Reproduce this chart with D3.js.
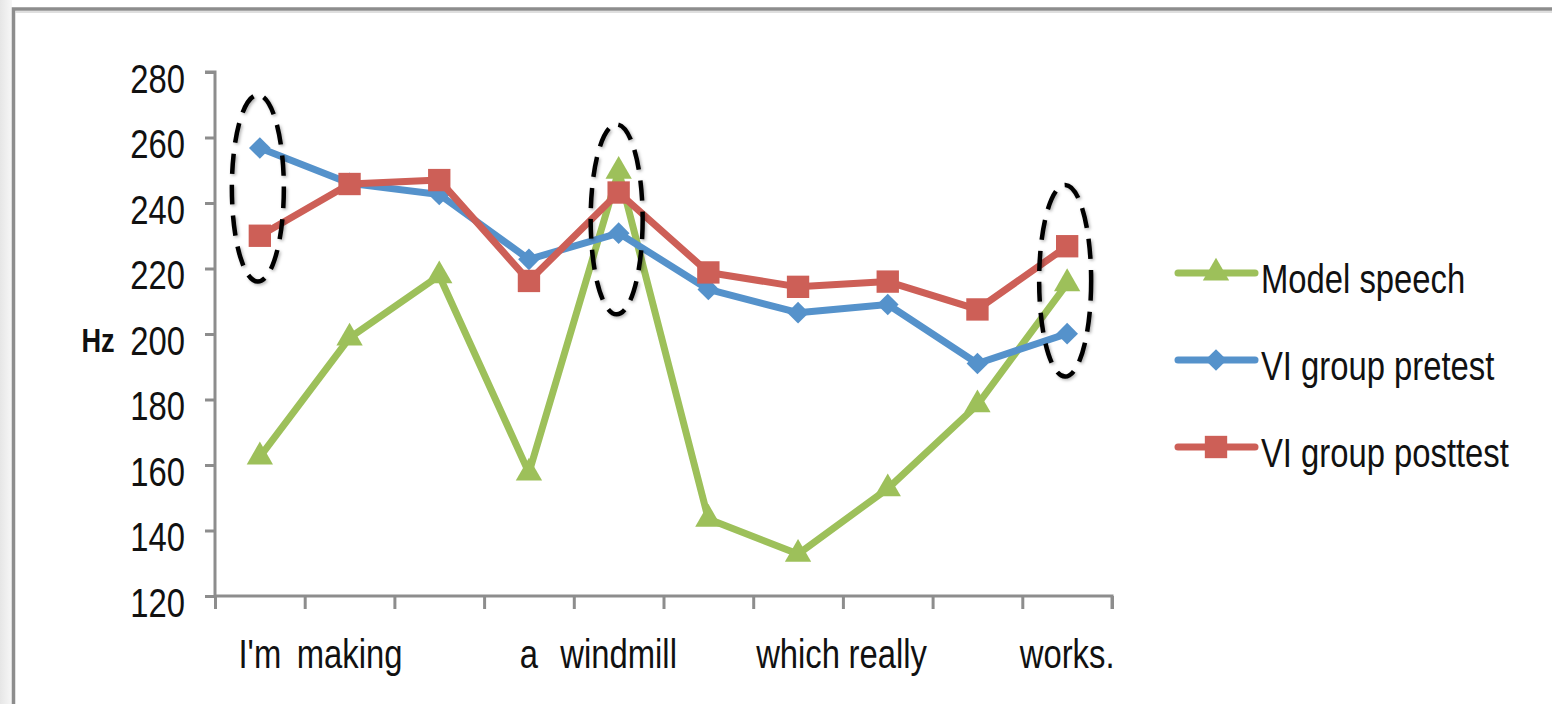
<!DOCTYPE html>
<html>
<head>
<meta charset="utf-8">
<script src="https://cdn.jsdelivr.net/npm/d3@7"></script>
<style>
  html, body { margin: 0; padding: 0; background: #fff; }
  svg { display: block; }
  text { font-family: "Liberation Sans", Arial, sans-serif; fill: #111; }
</style>
</head>
<body>
<svg id="chart"></svg>
<script>
// syllable labels (blank = second syllable)
const categories = ["I'm", "making", "", "a", "windmill", "", "which", "really", "", "works."];
const modelSpeech = [162.5, 198.8, 217.8, 157.6, 249.7, 143.5, 132.8, 152.8, 178.4, 215.4];
const preTest     = [256.8, 246.0, 242.6, 222.8, 230.8, 213.6, 206.5, 209.0, 191.0, 200.1];
const postTest    = [230.0, 245.8, 247.0, 216.2, 243.2, 218.8, 214.4, 216.0, 207.5, 226.8];
const seriesNames = ["Model speech", "VI group pretest", "VI group posttest"];
const yTicks = [120, 140, 160, 180, 200, 220, 240, 260, 280];
// dashed rings: category index, Hz range
const rings = [
  {i: 0, lo: 216, hi: 273},
  {i: 4, lo: 206, hi: 264},
  {i: 9, lo: 187, hi: 245.5}
];

const width = 1552, height = 704;
const squeeze = 0.8; // the source font is condensed
const svg = d3.select("#chart").attr("width", width).attr("height", height);

// place a text at x,y squeezed horizontally
function narrow(sel, x, y) {
  sel.attr("x", 0).attr("y", 0)
    .attr("transform", (d, i) => `translate(${typeof x === "function" ? x(d, i) : x},${typeof y === "function" ? y(d, i) : y}) scale(${squeeze},1)`);
}

// frame background
const defs = svg.append("defs");
const grad = defs.append("linearGradient").attr("id", "side")
  .attr("x1", 0).attr("x2", 1).attr("y1", 0).attr("y2", 0);
grad.append("stop").attr("offset", 0).attr("stop-color", "#e6e6e6");
grad.append("stop").attr("offset", 1).attr("stop-color", "#f7f7f7");
svg.append("rect").attr("x", 0).attr("y", 0).attr("width", 12).attr("height", height).attr("fill", "url(#side)");

const shadow = defs.append("filter").attr("id", "shadow")
  .attr("x", "-50%").attr("y", "-50%").attr("width", "200%").attr("height", "200%");
shadow.append("feDropShadow").attr("dx", 1.5).attr("dy", 1.5).attr("stdDeviation", 1.5)
  .attr("flood-color", "#000").attr("flood-opacity", 0.3);

svg.append("path")
  .attr("d", `M13.5,${height} V9 H${width}`)
  .attr("fill", "none").attr("stroke", "#8d8d8d").attr("stroke-width", 3.5);
svg.append("line").attr("x1", 15).attr("x2", width).attr("y1", 12).attr("y2", 12)
  .attr("stroke", "#d4d4d4").attr("stroke-width", 1.5);

const x0 = 215, x1 = 1112, yTop = 72, yBottom = 596;

const xEdge = d3.scaleLinear().domain([0, categories.length]).range([x0, x1]);
const xBand = d3.scaleBand().domain(d3.range(categories.length)).range([x0, x1]).padding(0);
const xc = i => xBand(i) + xBand.bandwidth() / 2;

const y = d3.scaleLinear().domain([120, 280]).range([yBottom, yTop]);

const axisColor = "#8d8d8d";

// y axis
const gy = svg.append("g").attr("transform", `translate(${x0},0)`)
  .call(d3.axisLeft(y).tickValues(yTicks).tickSize(10).tickFormat(d3.format("d")));
gy.select(".domain").attr("stroke", axisColor).attr("stroke-width", 3).attr("d", `M-10,${yTop}H0V${yBottom}`);
gy.selectAll(".tick line").attr("stroke", axisColor).attr("stroke-width", 3);
gy.selectAll(".tick text").attr("font-size", 41).attr("dy", null).attr("fill", "#111")
  .call(narrow, -30, 20);

// x axis (ticks on category edges)
const gx = svg.append("g").attr("transform", `translate(0,${yBottom})`)
  .call(d3.axisBottom(xEdge).ticks(categories.length).tickSize(13).tickFormat(""));
gx.select(".domain").attr("stroke", axisColor).attr("stroke-width", 3).attr("d", `M${x0},0H${x1}V13`);
gx.selectAll(".tick line").attr("stroke", axisColor).attr("stroke-width", 3);

svg.append("g").selectAll("text").data(categories).join("text")
  .attr("text-anchor", "middle").attr("font-size", 41)
  .call(narrow, (d, i) => xc(i), 668)
  .text(d => d);

// y title
svg.append("text").attr("text-anchor", "middle")
  .attr("font-size", 34).attr("font-weight", "bold")
  .call(narrow, 98, 352)
  .text("Hz");

const series = [
  {name: seriesNames[0], values: modelSpeech, color: "#9dc05a", symbol: d3.symbolTriangle, size: 300},
  {name: seriesNames[1], values: preTest, color: "#5592cb", symbol: d3.symbolDiamond2, size: 300},
  {name: seriesNames[2], values: postTest, color: "#cd5f57", symbol: d3.symbolSquare, size: 500}
];

const line = d3.line().x((d, i) => xc(i)).y(d => y(d));

series.forEach(s => {
  const g = svg.append("g");
  g.append("path").datum(s.values)
    .attr("fill", "none").attr("stroke", s.color).attr("stroke-width", 7)
    .attr("stroke-linejoin", "round").attr("d", line);
  g.selectAll("path.mark").data(s.values).join("path").attr("class", "mark")
    .attr("transform", (d, i) => `translate(${xc(i)},${y(d)})`)
    .attr("d", d3.symbol().type(s.symbol).size(s.size))
    .attr("fill", s.color);
});

// dashed rings
svg.append("g").selectAll("ellipse").data(rings).join("ellipse")
  .attr("cx", d => xc(d.i) - 2)
  .attr("cy", d => (y(d.lo) + y(d.hi)) / 2)
  .attr("rx", 26)
  .attr("ry", d => (y(d.lo) - y(d.hi)) / 2)
  .attr("fill", "none").attr("stroke", "#000").attr("stroke-width", 4.5)
  .attr("stroke-dasharray", "20 11")
  .attr("filter", "url(#shadow)");

// legend
const legend = svg.append("g").attr("transform", "translate(1178,273)");
const li = legend.selectAll("g").data(series).join("g")
  .attr("transform", (d, i) => `translate(0,${i * 87})`);
li.append("line").attr("x1", 0).attr("x2", 77).attr("y1", 0).attr("y2", 0)
  .attr("stroke", d => d.color).attr("stroke-width", 7).attr("stroke-linecap", "round");
li.append("path").attr("transform", "translate(38,0)")
  .attr("d", d => d3.symbol().type(d.symbol).size(d.size)())
  .attr("fill", d => d.color);
li.append("text").attr("font-size", 41).call(narrow, 83, 20).text(d => d.name);
</script>
</body>
</html>
